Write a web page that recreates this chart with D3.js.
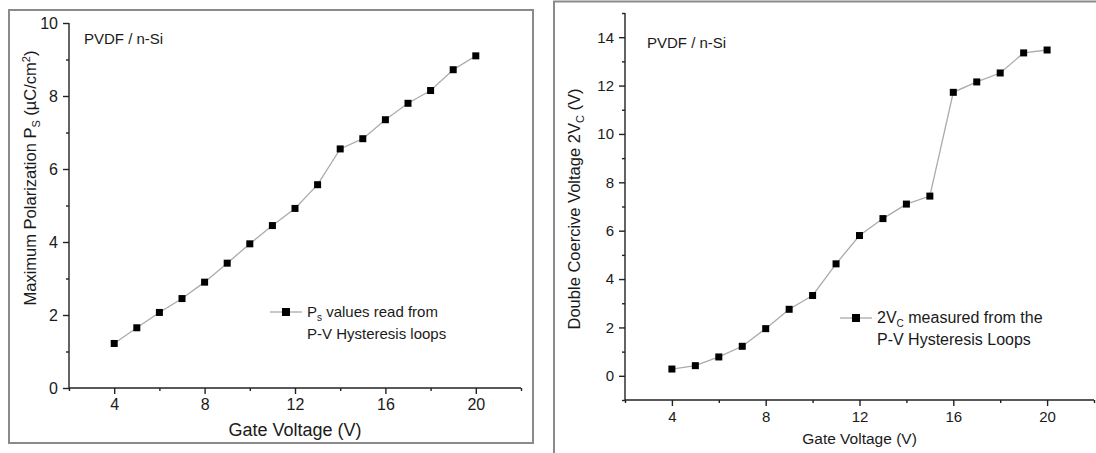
<!DOCTYPE html>
<html><head><meta charset="utf-8">
<script src="https://cdn.jsdelivr.net/npm/d3@7"></script>
<style>
body{margin:0;background:#fff;}
svg text{font-family:"Liberation Sans",Arial,sans-serif;fill:#1a1a1a;}
.axis path,.axis line{stroke:#222;stroke-width:1.4;}
.axis text{font-size:14px;fill:#1a1a1a;}
</style></head>
<body>
<svg id="c" width="1096" height="453"></svg>
<script>
const gateVoltage = [4,5,6,7,8,9,10,11,12,13,14,15,16,17,18,19,20];
const maxPolarization = [1.22,1.65,2.07,2.45,2.9,3.42,3.95,4.45,4.92,5.57,6.55,6.83,7.35,7.8,8.15,8.72,9.1];
const doubleCoercive = [0.28,0.42,0.78,1.22,1.95,2.75,3.32,4.63,5.8,6.5,7.1,7.43,11.72,12.15,12.52,13.35,13.47];
const xMajorTicks = [4,8,12,16,20];
const xMinorTicks = [2,6,10,14,18,22];
const leftYMajor = [0,2,4,6,8,10];
const leftYMinor = [1,3,5,7,9];
const rightYMajor = [0,2,4,6,8,10,12,14];
const rightYMinor = [-1,1,3,5,7,9,11,13,15];

const svg = d3.select("#c");

// frames
svg.append("rect").attr("x",9).attr("y",10).attr("width",524).attr("height",433)
  .attr("fill","none").attr("stroke","#8a8a8a").attr("stroke-width",2);
svg.append("rect").attr("x",554).attr("y",1.5).attr("width",560).attr("height",470)
  .attr("fill","none").attr("stroke","#8a8a8a").attr("stroke-width",2);

function panel(cfg){
  const x = d3.scaleLinear().domain([2,22]).range(cfg.xr);
  const y = d3.scaleLinear().domain(cfg.yd).range(cfg.yr);
  const g = svg.append("g");
  // minor ticks
  g.append("g").attr("class","axis").attr("transform",`translate(0,${cfg.yr[0]})`)
    .call(d3.axisBottom(x).tickValues(xMinorTicks).tickSize(3).tickFormat(""))
    .call(s=>s.select(".domain").remove());
  g.append("g").attr("class","axis").attr("transform",`translate(${cfg.xr[0]},0)`)
    .call(d3.axisLeft(y).tickValues(cfg.yMinor).tickSize(3).tickFormat(""))
    .call(s=>s.select(".domain").remove());
  // major
  g.append("g").attr("class","axis").attr("transform",`translate(0,${cfg.yr[0]})`)
    .call(d3.axisBottom(x).tickValues(xMajorTicks).tickSize(6).tickSizeOuter(0).tickPadding(5))
    .call(s=>s.select(".domain").attr("d",`M${cfg.xr[0]},0H${cfg.xr[1]}`))
    .call(s=>s.selectAll("text").style("font-size",cfg.tickFont+"px"));
  g.append("g").attr("class","axis").attr("transform",`translate(${cfg.xr[0]},0)`)
    .call(d3.axisLeft(y).tickValues(cfg.yMajor).tickSize(6).tickSizeOuter(0).tickPadding(5))
    .call(s=>s.select(".domain").attr("d",`M0,${cfg.yr[0]}V${cfg.yr[1]}`))
    .call(s=>s.selectAll("text").style("font-size",cfg.tickFont+"px"));

  const line = d3.line().x((d,i)=>x(gateVoltage[i])).y(d=>y(d));
  g.append("path").datum(cfg.data).attr("d",line).attr("fill","none")
    .attr("stroke","#ababab").attr("stroke-width",1.3);
  g.selectAll("rect.pt").data(cfg.data).enter().append("rect")
    .attr("x",(d,i)=>x(gateVoltage[i])-3.5).attr("y",d=>y(d)-3.5)
    .attr("width",7).attr("height",7).attr("fill","#000");

  // x label
  g.append("text").attr("x",(cfg.xr[0]+cfg.xr[1])/2).attr("y",cfg.xLabelY)
    .attr("text-anchor","middle").style("font-size",cfg.xLabelFont+"px").text("Gate Voltage (V)");
  // y label
  const yl = g.append("text").attr("transform",`translate(${cfg.yLabelX},${cfg.yLabelY}) rotate(-90)`)
    .attr("text-anchor","middle").style("font-size",cfg.yLabelFont+"px");
  cfg.yLabel(yl);
  // annotation
  g.append("text").attr("x",cfg.annX).attr("y",cfg.annY).style("font-size","15px").text("PVDF / n-Si");
  // legend
  const lg = g.append("g").attr("transform",`translate(${cfg.legX},${cfg.legY})`);
  lg.append("line").attr("x1",-16).attr("x2",16).attr("y1",0).attr("y2",0).attr("stroke","#ababab").attr("stroke-width",1.3);
  lg.append("rect").attr("x",-4).attr("y",-4).attr("width",8).attr("height",8).attr("fill","#000");
  const t1 = lg.append("text").attr("x",21).attr("y",5).style("font-size",cfg.legFont+"px");
  cfg.legLine1(t1);
  lg.append("text").attr("x",21).attr("y",27).style("font-size",cfg.legFont+"px").text(cfg.legLine2);
}

panel({
  xr:[69,521], yd:[0,10], yr:[388,23], data:maxPolarization,
  yMajor:leftYMajor, yMinor:leftYMinor, tickFont:16, xLabelFont:18, yLabelFont:16.5, legFont:15,
  xLabelY:436, yLabelX:36, yLabelY:178,
  yLabel:t=>{t.append("tspan").text("Maximum Polarization P");
    t.append("tspan").attr("dy",4).style("font-size","11px").text("S");
    t.append("tspan").attr("dy",-4).text(" (µC/cm");
    t.append("tspan").attr("dy",-6).style("font-size","11px").text("2");
    t.append("tspan").attr("dy",6).text(")");},
  annX:84, annY:44, legX:286, legY:312,
  legLine1:t=>{t.append("tspan").text("P");t.append("tspan").attr("dy",4).style("font-size","10px").text("s");
    t.append("tspan").attr("dy",-4).text(" values read from");},
  legLine2:"P-V Hysteresis loops"
});

panel({
  xr:[625,1094], yd:[-1,15], yr:[400,13], data:doubleCoercive,
  yMajor:rightYMajor, yMinor:rightYMinor, tickFont:15, xLabelFont:15.5, yLabelFont:16.5, legFont:16,
  xLabelY:444, yLabelX:580, yLabelY:209,
  yLabel:t=>{t.append("tspan").text("Double Coercive Voltage 2V");
    t.append("tspan").attr("dy",4).style("font-size","11px").text("C");
    t.append("tspan").attr("dy",-4).text(" (V)");},
  annX:647, annY:48, legX:856, legY:318,
  legLine1:t=>{t.append("tspan").text("2V");t.append("tspan").attr("dy",4).style("font-size","10px").text("C");
    t.append("tspan").attr("dy",-4).text(" measured from the");},
  legLine2:"P-V Hysteresis Loops"
});
</script>
</body></html>
